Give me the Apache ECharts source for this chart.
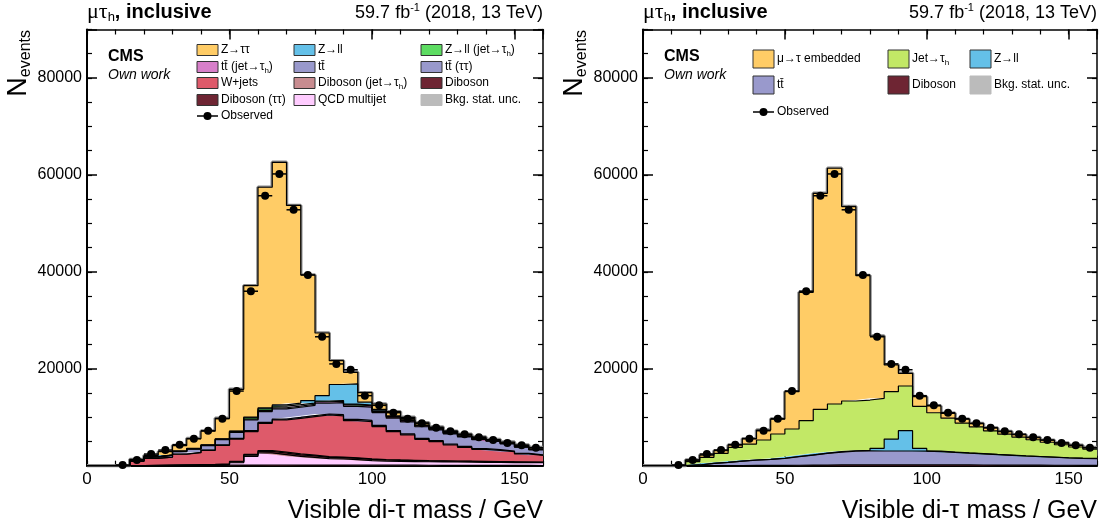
<!DOCTYPE html>
<html>
<head>
<meta charset="utf-8">
<title>mu tau_h inclusive - visible di-tau mass</title>
<script src="https://cdn.jsdelivr.net/npm/echarts@6/dist/echarts.min.js"></script>
<style>
html, body { margin: 0; padding: 0; background: #fff; }
#chart { width: 1105px; height: 532px; }
</style>
</head>
<body>
<div id="chart"></div>
<script>
// bin edges in GeV (5 GeV bins), last edge closes the histogram
const massEdges = [0,5,10,15,20,25,30,35,40,45,50,55,60,65,70,75,80,85,90,95,100,105,110,115,120,125,130,135,140,145,150,155,160];

// observed data, bin centres
const obsCenters = [12.5,17.5,22.5,27.5,32.5,37.5,42.5,47.5,52.5,57.5,62.5,67.5,72.5,77.5,82.5,87.5,92.5,97.5,102.5,107.5,112.5,117.5,122.5,127.5,132.5,137.5,142.5,147.5,152.5,157.5];
const obsValues = [150,1170,2400,3230,4330,5570,7220,9700,15400,36000,55700,60200,52800,39350,26600,21000,19800,14450,12450,10940,9700,8740,7840,7090,6470,5850,5300,4680,4200,3720];

// left panel: simulated backgrounds (per bin, not cumulative)
const dibosonL = [0,0,0,15,25,40,50,60,80,100,110,130,140,140,135,130,130,125,120,115,110,105,100,90,85,80,70,65,60,55,50,45];
const qcdL     = [0,0,0,0,0,0,0,0,0,50,500,1800,2500,2150,1800,1600,1330,1270,1150,950,850,800,750,720,700,680,660,640,620,600,580,560];
const dibJetL  = [0,0,0,20,40,60,80,100,120,140,180,250,300,300,290,280,270,260,250,240,220,200,190,180,170,160,150,140,130,120,110,100];
const dibTauL  = [0,0,0,10,20,30,40,50,60,70,90,150,200,220,200,180,150,130,120,100,90,80,70,60,55,50,45,40,35,30,28,25];
const wjetsL   = [0,0,0,855,1445,1610,2190,2480,2890,3840,4620,4700,5610,6630,7355,7940,8590,8515,7660,7695,6790,5845,5230,4390,3955,3300,2870,2495,2305,2085,1655,1415];
const ttTauL   = [0,0,0,20,30,40,50,70,90,100,120,200,200,190,190,190,200,220,240,250,240,230,220,210,200,190,180,170,150,130,115,95];
const ttbarL   = [0,0,0,180,250,360,500,680,910,1050,1230,2200,2220,2110,2090,2110,2220,2480,2710,2750,2660,2550,2480,2390,2220,2110,1970,1830,1670,1470,1270,1030];
const ttJetL   = [0,0,0,10,20,30,40,50,60,80,100,150,200,220,240,250,260,270,280,270,250,230,210,190,170,150,130,120,110,100,90,80];
const zllJetL  = [0,0,0,10,20,30,40,50,60,80,120,300,350,330,300,250,200,180,160,140,120,100,90,80,70,60,55,50,45,40,35,30];
const zllL     = [0,0,0,5,10,15,20,30,40,50,80,150,200,250,300,500,1100,3300,4200,600,300,150,100,80,60,50,40,35,30,25,20,20];
const zttL     = [0,0,0,175,240,685,1140,2030,2840,4210,8600,27120,45530,50060,40800,25920,12930,4920,2370,1960,1100,860,540,450,300,300,320,330,250,230,300,350];

// right panel: embedded + fake-factor backgrounds
const dibosonR = [0,0,0,10,20,30,40,50,60,70,90,110,130,150,160,170,170,170,170,165,160,155,150,140,130,120,110,100,95,90,85,80];
const ttbarR   = [0,0,0,140,460,660,920,1120,1240,1440,1770,2090,2420,2670,2840,2880,2860,2860,2860,2840,2740,2600,2450,2310,2170,2030,1890,1770,1650,1530,1440,1400];
const zllR     = [0,0,0,0,0,0,0,10,20,30,40,50,60,70,80,100,550,2470,4200,550,120,60,50,50,40,40,30,30,30,20,20,20];
const jetR     = [0,0,0,680,1240,1860,2820,3290,3980,5000,5670,7040,9020,9840,10270,10400,10320,9770,9210,8690,7900,6990,6150,5500,4860,4310,3870,3450,3060,2680,2310,1930];
const embR     = [0,0,0,340,480,550,490,1100,2060,3090,7700,26490,44570,48640,40110,25670,12860,5510,2620,2000,1400,1000,800,700,600,550,500,450,420,380,350,320];

const xTicks = [0, 50, 100, 150];
const yTicks = [20000, 40000, 60000, 80000];

const colors = {
  ztt: '#ffcc66', zll: '#64c0e8', zllJet: '#5ddc62', ttJet: '#d77fc9', tt: '#9999cc',
  wjets: '#de5a6a', dibJet: '#c88c90', diboson: '#6e2533', qcd: '#ffccff', unc: '#bbbbbb',
  jet: '#c2e866'
};

const FONT = 'Liberation Sans';

// rows are [count, lowEdge]: the count comes first so the stack adds up counts
function histData(vals) {
  return massEdges.map((x, i) => [vals[Math.min(i, vals.length - 1)], x]);
}

function layer(panel, name, vals, fill) {
  return {
    name: name, type: 'line', stack: 'mc' + panel, step: 'end',
    xAxisIndex: panel * 4, yAxisIndex: panel * 4,
    data: histData(vals), encode: { x: 1, y: 0 },
    symbol: 'none', silent: true, animation: false,
    lineStyle: { color: '#000', width: 1.2 },
    areaStyle: { color: fill, opacity: 1 },
    itemStyle: { color: fill }
  };
}

// grey stat. band drawn on top of the stack
function uncLine(panel) {
  return {
    name: 'Bkg. stat. unc.', type: 'line', stack: 'mc' + panel, step: 'end', z: 1,
    xAxisIndex: panel * 4, yAxisIndex: panel * 4,
    data: massEdges.map(x => [0, x]), encode: { x: 1, y: 0 },
    symbol: 'none', silent: true, animation: false,
    lineStyle: { color: '#8a8a8a', width: 3.5 }
  };
}

function observed(panel) {
  return {
    name: 'Observed', type: 'custom', z: 5, silent: true, animation: false,
    xAxisIndex: panel * 4, yAxisIndex: panel * 4,
    data: obsCenters.map((x, i) => [x, obsValues[i]]),
    encode: { x: 0, y: 1 },
    renderItem: function (params, api) {
      let x = api.value(0), y = api.value(1);
      let p = api.coord([x, y]);
      let l = api.coord([x - 2.5, y]);
      let r = api.coord([x + 2.5, y]);
      return {
        type: 'group', children: [
          { type: 'line', shape: { x1: l[0], y1: l[1], x2: r[0], y2: r[1] }, style: { stroke: '#000', lineWidth: 1.5 } },
          { type: 'circle', shape: { cx: p[0], cy: p[1], r: 4 }, style: { fill: '#000' } }
        ]
      };
    }
  };
}

// 4 x axes and 4 y axes per panel: minor/major ticks, bottom/top and left/right
function xAxesFor(g) {
  let base = { gridIndex: g, type: 'value', min: 0, max: 160, splitLine: { show: false } };
  return [
    Object.assign({}, base, { position: 'bottom', interval: 10,
      axisLine: { show: true, onZero: false, lineStyle: { color: '#000', width: 2 } },
      axisTick: { inside: true, length: 5, lineStyle: { color: '#000', width: 1.2 } },
      axisLabel: { show: false } }),
    Object.assign({}, base, { position: 'bottom', interval: 50,
      axisLine: { show: false, onZero: false },
      axisTick: { inside: true, length: 10, lineStyle: { color: '#000', width: 1.5 } },
      axisLabel: { fontSize: 17, fontFamily: FONT, color: '#000', margin: 5,
        formatter: v => xTicks.indexOf(v) >= 0 ? String(v) : '' } }),
    Object.assign({}, base, { position: 'top', interval: 10,
      axisLine: { show: true, onZero: false, lineStyle: { color: '#000', width: 1.5 } },
      axisTick: { inside: true, length: 5, lineStyle: { color: '#000', width: 1.2 } },
      axisLabel: { show: false } }),
    Object.assign({}, base, { position: 'top', interval: 50,
      axisLine: { show: false, onZero: false },
      axisTick: { inside: true, length: 10, lineStyle: { color: '#000', width: 1.5 } },
      axisLabel: { show: false } })
  ];
}

function yAxesFor(g) {
  let base = { gridIndex: g, type: 'value', min: 0, max: 90000, splitLine: { show: false } };
  return [
    Object.assign({}, base, { position: 'left', interval: 5000,
      axisLine: { show: true, onZero: false, lineStyle: { color: '#000', width: 2 } },
      axisTick: { inside: true, length: 5, lineStyle: { color: '#000', width: 1.2 } },
      axisLabel: { show: false } }),
    Object.assign({}, base, { position: 'left', interval: 20000,
      axisLine: { show: false, onZero: false },
      axisTick: { inside: true, length: 10, lineStyle: { color: '#000', width: 1.5 } },
      axisLabel: { fontSize: 16, fontFamily: FONT, color: '#000', margin: 5,
        formatter: v => yTicks.indexOf(v) >= 0 ? String(v) : '' } }),
    Object.assign({}, base, { position: 'right', interval: 5000,
      axisLine: { show: true, onZero: false, lineStyle: { color: '#000', width: 1.5 } },
      axisTick: { inside: true, length: 5, lineStyle: { color: '#000', width: 1.2 } },
      axisLabel: { show: false } }),
    Object.assign({}, base, { position: 'right', interval: 20000,
      axisLine: { show: false, onZero: false },
      axisTick: { inside: true, length: 10, lineStyle: { color: '#000', width: 1.5 } },
      axisLabel: { show: false } })
  ];
}

// ---- text helpers ----
function textEl(x, y, text, rich, align, rotation) {
  return {
    type: 'text', x: x, y: y, rotation: rotation || 0, silent: true, z: 10,
    style: {
      text: text, rich: rich, fill: '#000',
      align: align || 'left', verticalAlign: 'middle',
      textAlign: align || 'left', textVerticalAlign: 'middle'
    }
  };
}

const richLegend = {
  n: { fontSize: 12, lineHeight: 16, fontFamily: FONT },
  s: { fontSize: 8, lineHeight: 8, fontFamily: FONT, verticalAlign: 'bottom' }
};
const richTitle = {
  g: { fontSize: 22, lineHeight: 24, fontFamily: 'Liberation Serif' },
  s: { fontSize: 13, lineHeight: 11, fontFamily: FONT, verticalAlign: 'bottom' },
  b: { fontSize: 20, lineHeight: 24, fontFamily: FONT, fontWeight: 'bold' }
};
const richLumi = {
  t: { fontSize: 18, lineHeight: 22, fontFamily: FONT },
  u: { fontSize: 11, lineHeight: 10, fontFamily: FONT, verticalAlign: 'top' }
};
const richYName = {
  N: { fontSize: 27, lineHeight: 30, fontFamily: FONT },
  e: { fontSize: 16, lineHeight: 15, fontFamily: FONT, verticalAlign: 'bottom' }
};
const richXName = { t: { fontSize: 25, lineHeight: 28, fontFamily: FONT } };
const richCms = {
  c: { fontSize: 16, lineHeight: 18, fontFamily: FONT, fontWeight: 'bold' },
  o: { fontSize: 14, lineHeight: 16, fontFamily: FONT, fontStyle: 'italic' }
};

function boxEntry(x, y, h, fill, label, border) {
  return [
    { type: 'rect', silent: true, z: 10, shape: { x: x, y: y - h / 2, width: 21, height: h },
      style: { fill: fill, stroke: border ? '#333' : fill, lineWidth: 1 } },
    textEl(x + 24, y, label, richLegend)
  ];
}
function obsEntry(x, y) {
  return [
    { type: 'line', silent: true, z: 10, shape: { x1: x, y1: y, x2: x + 21, y2: y }, style: { stroke: '#000', lineWidth: 1.5 } },
    { type: 'circle', silent: true, z: 10, shape: { cx: x + 10.5, cy: y, r: 4 }, style: { fill: '#000' } },
    textEl(x + 24, y, '{n|Observed}', richLegend)
  ];
}

function panelTexts(left, right) {
  return [
    textEl(left, 12, '{g|μτ}{s|h}{b|, inclusive}', richTitle),
    textEl(right, 13, '{t|59.7 fb}{u|-1}{t| (2018, 13 TeV)}', richLumi, 'right'),
    textEl(left - 68, 30, '{N|N}{e|events}', richYName, 'right', Math.PI / 2),
    textEl(right, 511, '{t|Visible di-τ mass / GeV}', richXName, 'right'),
    textEl(left + 21, 57, '{c|CMS}', richCms),
    textEl(left + 21, 75, '{o|Own work}', richCms)
  ];
}

let graphics = [].concat(
  panelTexts(87, 543),
  panelTexts(643, 1097),
  // left legend
  boxEntry(197, 50, 11, colors.ztt, '{n|Z→ττ}', true),
  boxEntry(197, 67, 11, colors.ttJet, '{n|tt̄ (jet→τ}{s|h}{n|)}', true),
  boxEntry(197, 83, 11, colors.wjets, '{n|W+jets}', true),
  boxEntry(197, 100, 11, colors.diboson, '{n|Diboson (ττ)}', true),
  obsEntry(197, 116),
  boxEntry(294, 50, 11, colors.zll, '{n|Z→ll}', true),
  boxEntry(294, 67, 11, colors.tt, '{n|tt̄}', true),
  boxEntry(294, 83, 11, colors.dibJet, '{n|Diboson (jet→τ}{s|h}{n|)}', true),
  boxEntry(294, 100, 11, colors.qcd, '{n|QCD multijet}', true),
  boxEntry(421, 50, 11, colors.zllJet, '{n|Z→ll (jet→τ}{s|h}{n|)}', true),
  boxEntry(421, 67, 11, colors.tt, '{n|tt̄ (ττ)}', true),
  boxEntry(421, 83, 11, colors.diboson, '{n|Diboson}', true),
  boxEntry(421, 100, 11, colors.unc, '{n|Bkg. stat. unc.}', false),
  // right legend
  boxEntry(753, 59, 18, colors.ztt, '{n|μ→τ embedded}', true),
  boxEntry(753, 85, 18, colors.tt, '{n|tt̄}', true),
  obsEntry(753, 112),
  boxEntry(888, 59, 18, colors.jet, '{n|Jet→τ}{s|h}', true),
  boxEntry(888, 85, 18, colors.diboson, '{n|Diboson}', true),
  boxEntry(970, 59, 18, colors.zll, '{n|Z→ll}', true),
  boxEntry(970, 85, 18, colors.unc, '{n|Bkg. stat. unc.}', false)
);

let myChart = echarts.init(document.getElementById('chart'));
let option = {
  animation: false,
  backgroundColor: '#fff',
  grid: [
    { left: 87, right: 562, top: 29.5, bottom: 66.3 },
    { left: 643, right: 8, top: 29.5, bottom: 66.3 }
  ],
  xAxis: xAxesFor(0).concat(xAxesFor(1)),
  yAxis: yAxesFor(0).concat(yAxesFor(1)),
  series: [
    layer(0, 'Diboson', dibosonL, colors.diboson),
    layer(0, 'QCD multijet', qcdL, colors.qcd),
    layer(0, 'Diboson (jet→τh)', dibJetL, colors.dibJet),
    layer(0, 'Diboson (ττ)', dibTauL, colors.diboson),
    layer(0, 'W+jets', wjetsL, colors.wjets),
    layer(0, 'tt̄ (ττ)', ttTauL, colors.tt),
    layer(0, 'tt̄', ttbarL, colors.tt),
    layer(0, 'tt̄ (jet→τh)', ttJetL, colors.ttJet),
    layer(0, 'Z→ll (jet→τh)', zllJetL, colors.zllJet),
    layer(0, 'Z→ll', zllL, colors.zll),
    layer(0, 'Z→ττ', zttL, colors.ztt),
    uncLine(0),
    observed(0),

    layer(1, 'Diboson', dibosonR, colors.diboson),
    layer(1, 'tt̄', ttbarR, colors.tt),
    layer(1, 'Z→ll', zllR, colors.zll),
    layer(1, 'Jet→τh', jetR, colors.jet),
    layer(1, 'μ→τ embedded', embR, colors.ztt),
    uncLine(1),
    observed(1)
  ],
  graphic: { elements: graphics }
};
myChart.setOption(option);
window.onresize = function () {
  myChart.resize();
};
</script>
</body>
</html>
